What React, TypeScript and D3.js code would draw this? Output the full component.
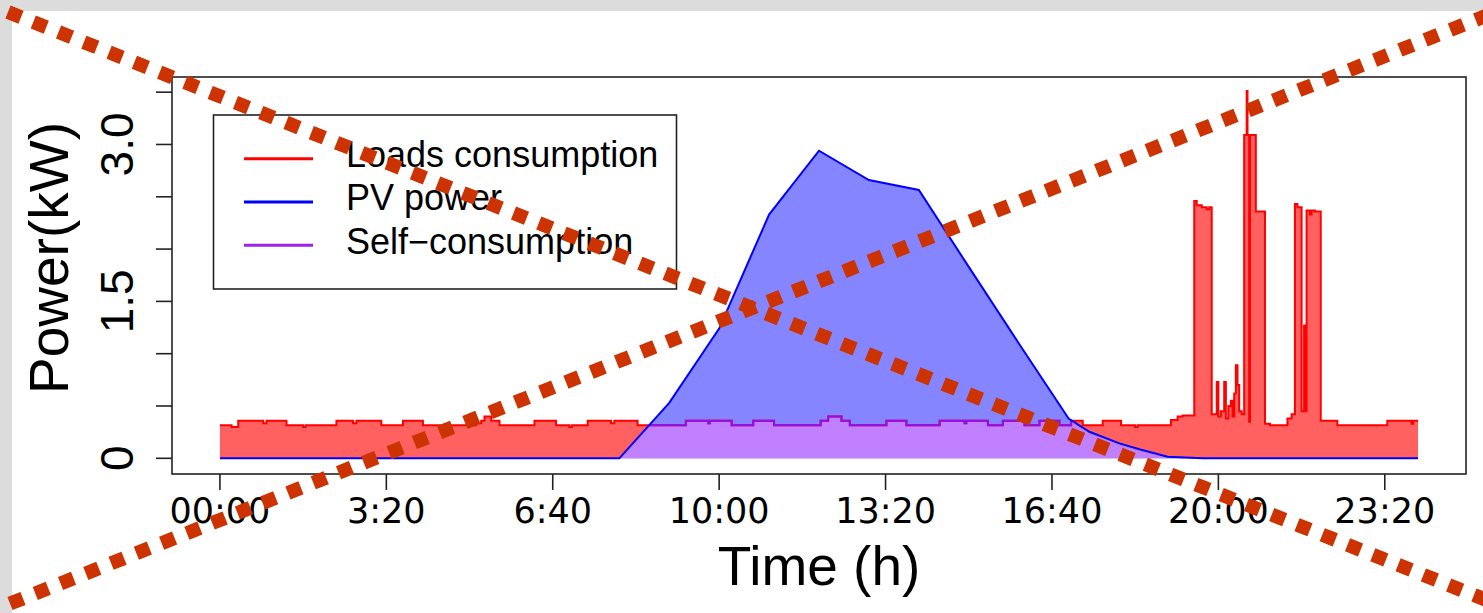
import React, { useEffect } from 'react';
import * as d3 from 'd3';

const W = 1483;
const H = 613;

// x ticks (minutes since midnight) and labels
const timeTicks = [0, 200, 400, 600, 800, 1000, 1200, 1400];
const timeTickLabels = ['00:00', '3:20', '6:40', '10:00', '13:20', '16:40', '20:00', '23:20'];
// y ticks (kW)
const powerTicks = [0, 0.5, 1, 1.5, 2, 2.5, 3, 3.5];
const powerLabelTicks = [0, 1.5, 3.0];
const powerLabels = ['0', '1.5', '3.0'];

// Loads consumption (kW), step series: value holds from time until next time
const loadTimes = [
  0, 14, 22, 52, 56, 80, 100, 103, 140, 160, 164, 194, 220, 244, 265, 268,
  308, 314, 318, 326, 336, 378, 404, 420, 423, 442, 470, 474, 502, 560, 587,
  589, 615, 641, 666, 722, 731, 747, 757, 801, 825, 865, 895, 897, 923, 941,
  967, 985, 1009, 1023, 1037, 1061, 1083, 1100, 1103, 1143, 1151, 1157,
  1171, 1174, 1180, 1186, 1189, 1192, 1198, 1200, 1203, 1207, 1209, 1212,
  1215, 1217, 1219, 1221, 1223, 1225, 1228, 1231, 1234, 1235, 1237, 1238,
  1245, 1256, 1262, 1283, 1288, 1292, 1295, 1300, 1303, 1304, 1306, 1310,
  1312, 1316, 1323, 1343, 1403, 1432, 1434, 1440,
];
const loadValues = [
  0.315, 0.3, 0.36, 0.335, 0.36, 0.315, 0.3, 0.315, 0.36, 0.335, 0.36, 0.315, 0.36, 0.315, 0.3, 0.315,
  0.335, 0.36, 0.4, 0.36, 0.315, 0.36, 0.315, 0.3, 0.315, 0.36, 0.335, 0.36, 0.315, 0.36, 0.335,
  0.36, 0.315, 0.36, 0.315, 0.36, 0.4, 0.36, 0.315, 0.36, 0.315, 0.36, 0.335, 0.36, 0.315, 0.36,
  0.315, 0.36, 0.315, 0.36, 0.315, 0.36, 0.315, 0.3, 0.315, 0.366, 0.4, 0.41,
  2.46, 2.42, 2.4, 2.38, 2.4, 0.42, 0.73, 0.4, 0.45, 0.73, 0.38, 0.5,
  0.55, 0.4, 0.62, 0.89, 0.7, 0.45, 0.42, 3.09, 3.51, 3.09, 0.35, 3.09,
  2.36, 0.33, 0.315, 0.38, 0.42, 2.43, 2.4, 0.45, 1.27, 0.45, 2.37, 2.33,
  2.37, 2.36, 0.36, 0.315, 0.36, 0.33, 0.36, 0.36,
];

// PV power (kW)
const pvTimes = [0, 480, 540, 600, 660, 720, 780, 840, 900, 960, 1020, 1045, 1081, 1105, 1139, 1181, 1440];
const pvValues = [0, 0, 0.53, 1.24, 2.33, 2.94, 2.66, 2.565, 1.83, 1.1, 0.38, 0.254, 0.143, 0.086, 0.015, 0, 0];

const legendLabels = ['Loads consumption', 'PV power', 'Self\u2212consumption'];
const legendColors = ['#ff0000', '#0000ff', '#a020f0'];

const SANS = '"Liberation Sans", Arial, Helvetica, sans-serif';
const DEJAVU = '"DejaVu Sans", sans-serif';

export default function App() {
  useEffect(() => {
    document.body.style.margin = '0';
  }, []);

  const x = d3.scaleLinear().domain([-57.6, 1497.6]).range([172, 1466]);
  const y = d3.scaleLinear().domain([-0.15, 3.645]).range([474, 77]);

  const load = loadTimes.map((t, i) => ({ t, v: loadValues[i] }));
  const pv = pvTimes.map((t, i) => ({ t, v: pvValues[i] }));

  const loadArea = d3
    .area<{ t: number; v: number }>()
    .x((d) => x(d.t))
    .y0(y(0))
    .y1((d) => y(d.v))
    .curve(d3.curveStepAfter)(load) as string;
  const loadLine = d3
    .line<{ t: number; v: number }>()
    .x((d) => x(d.t))
    .y((d) => y(d.v))
    .curve(d3.curveStepAfter)(load) as string;
  const pvArea = d3
    .area<{ t: number; v: number }>()
    .x((d) => x(d.t))
    .y0(y(0))
    .y1((d) => y(d.v))(pv) as string;
  const pvLine = d3
    .line<{ t: number; v: number }>()
    .x((d) => x(d.t))
    .y((d) => y(d.v))(pv) as string;

  const boxL = x.range()[0];
  const boxR = x.range()[1];
  const boxT = y.range()[1];
  const boxB = y.range()[0];

  return (
    <svg width={W} height={H} style={{ display: 'block' }}>
      <defs>
        <clipPath id="pvclip">
          <path d={pvArea} />
        </clipPath>
      </defs>
      <rect x={0} y={0} width={W} height={H} fill="#dcdcdc" />
      <rect x={12} y={11} width={W - 12} height={H - 11} fill="#ffffff" />

      {/* filled areas */}
      <path d={loadArea} fill="#ff6060" stroke="none" />
      <path d={pvArea} fill="#8585ff" stroke="none" />
      <path d={loadArea} fill="#c080ff" stroke="none" clipPath="url(#pvclip)" />

      {/* lines */}
      <path d={loadLine} fill="none" stroke="#ff0000" strokeWidth={2} />
      <path d={loadLine} fill="none" stroke="#8a10f0" strokeWidth={2} clipPath="url(#pvclip)" />
      <path d={pvLine} fill="none" stroke="#0000ff" strokeWidth={2} />

      {/* box */}
      <rect x={boxL} y={boxT} width={boxR - boxL} height={boxB - boxT} fill="none" stroke="#222" strokeWidth={1.6} />

      {/* y axis */}
      {powerTicks.map((v) => (
        <line key={'yt' + v} x1={boxL - 16} x2={boxL} y1={y(v)} y2={y(v)} stroke="#222" strokeWidth={1.6} />
      ))}
      {powerLabelTicks.map((v, i) => (
        <text
          key={'yl' + v}
          transform={`translate(133,${y(v)}) rotate(-90)`}
          textAnchor="middle"
          fontFamily={SANS}
          fontSize={46}
          fill="#000"
        >
          {powerLabels[i]}
        </text>
      ))}
      <text
        transform={`translate(68,258) rotate(-90)`}
        textAnchor="middle"
        fontFamily={SANS}
        fontSize={55}
        fill="#000"
      >
        Power(kW)
      </text>

      {/* x axis */}
      {timeTicks.map((t) => (
        <line key={'xt' + t} x1={x(t)} x2={x(t)} y1={boxB} y2={boxB + 16} stroke="#222" strokeWidth={1.6} />
      ))}
      {timeTicks.map((t, i) => (
        <text key={'xl' + t} x={x(t)} y={523} textAnchor="middle" fontFamily={DEJAVU} fontSize={35} fill="#000">
          {timeTickLabels[i]}
        </text>
      ))}
      <text x={(boxL + boxR) / 2} y={585} textAnchor="middle" fontFamily={SANS} fontSize={55} fill="#000">
        Time (h)
      </text>

      {/* legend */}
      <rect x={213.5} y={115} width={463} height={174} fill="#fff" stroke="#222" strokeWidth={1.6} />
      {legendLabels.map((lab, i) => (
        <g key={lab}>
          <line x1={244} x2={313} y1={158.7 + i * 43.3} y2={158.7 + i * 43.3} stroke={legendColors[i]} strokeWidth={3} />
          <text x={346} y={167 + i * 43.3} fontFamily={SANS} fontSize={36} fill="#000">
            {lab}
          </text>
        </g>
      ))}

      {/* red dotted cross overlay */}
      <line x1={8} y1={12} x2={W + 10} y2={602.6} stroke="#cc3300" strokeWidth={14} strokeDasharray="14 13.2" />
      <line x1={10} y1={603.6} x2={W + 10} y2={13} stroke="#cc3300" strokeWidth={14} strokeDasharray="14 13.2" />
    </svg>
  );
}
